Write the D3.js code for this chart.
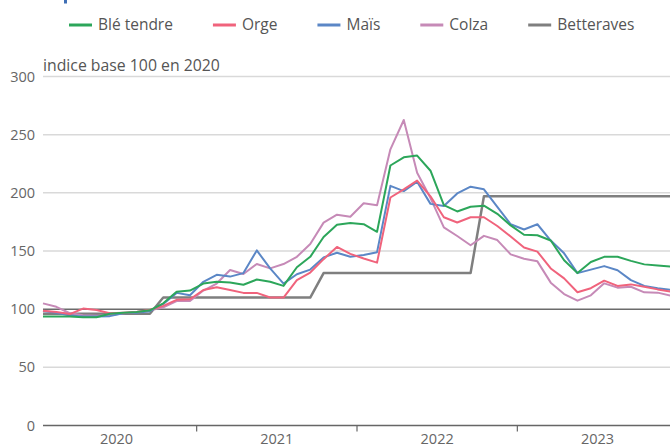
<!DOCTYPE html>
<html>
<head>
<meta charset="utf-8">
<script src="https://cdn.jsdelivr.net/npm/d3@7"></script>
<style>
  body { margin: 0; background: #fff; }
  text { font-family: "Open Sans", sans-serif; }
</style>
</head>
<body>
<script>
var width = 670, height = 448;

// monthly index, base 100 in 2020, Jan 2020 -> Dec 2023
const months = d3.timeMonths(new Date(2020, 0, 1), new Date(2024, 0, 1));
const years = ["2020", "2021", "2022", "2023"];
const yTicks = [0, 50, 100, 150, 200, 250, 300];

const ble = [93.6, 93.6, 93.6, 93, 93, 96, 97, 97.5, 99, 105, 115, 116,
  122, 123.5, 123, 121, 125.5, 123.5, 120, 136, 145, 162, 172.5, 174,
  173, 166.5, 223.5, 230.5, 232, 219, 189.5, 184, 188, 189, 182, 172,
  164, 163.5, 159, 142, 131, 140.5, 145, 145, 141.5, 138.5, 137.5, 136.5];
const orge = [98.6, 97.6, 95.8, 100.5, 99.3, 96.5, 97, 97.5, 99.5, 102.8, 108, 108.5,
  116.5, 118.8, 116.5, 114, 114, 110, 110, 125, 131.5, 143, 153.5, 147.5,
  143.5, 140, 196, 203, 210.5, 197, 179, 174.5, 179, 179, 171.5, 162.5,
  153, 149.5, 135, 126.5, 114.5, 118, 124.5, 120, 121.3, 119.3, 117, 115];
const mais = [98.5, 97, 94.5, 93.6, 93.6, 94, 96.5, 97, 98.3, 104.5, 114, 112,
  123.5, 129.5, 128, 131, 150.5, 135, 122, 130, 134, 144.5, 148.5, 145,
  146.5, 149, 206, 201.5, 209.5, 190.5, 188.7, 199.5, 205.3, 203, 188, 173,
  168.5, 173, 159, 148, 131, 134, 137, 133.5, 125, 120, 118, 116.5];
const colza = [105, 102, 96.5, 94.8, 94.3, 94.8, 96.5, 97.5, 99, 101.5, 107, 107,
  116, 122, 133.7, 130.2, 138.8, 135.1, 138.8, 145, 156, 174.4, 181.2, 179.5,
  191, 189.3, 237.4, 262.6, 217.3, 195.5, 170.3, 162.9, 154.9, 163, 159.4, 147.1,
  143.4, 141.1, 122.8, 113, 107.3, 111.9, 122.2, 118.5, 119.3, 114.5, 114.2, 111.6];
const betteraves = [96, 96, 96, 96, 96, 96, 96, 96, 96, 110, 110, 110,
  110, 110, 110, 110, 110, 110, 110, 110, 110, 131, 131, 131,
  131, 131, 131, 131, 131, 131, 131, 131, 131, 197, 197, 197,
  197, 197, 197, 197, 197, 197, 197, 197, 197, 197, 197, 197];

const seriesNames = ["Blé tendre", "Orge", "Maïs", "Colza", "Betteraves"];
const seriesValues = [ble, orge, mais, colza, betteraves];
const colors = ["#2ca65a", "#f0637c", "#5b87c6", "#c68ab7", "#7f7f7f"];

const svg = d3.select("body").append("svg")
  .attr("width", width)
  .attr("height", height);

const x = d3.scalePoint().domain(d3.range(months.length)).range([43, 671]);
const y = d3.scaleLinear().domain([0, 300]).range([425.5, 76.5]);

// cut-off mark at the very top
svg.append("rect").attr("x", 64).attr("y", 0).attr("width", 3).attr("height", 3.5)
  .attr("fill", "#3f6fb5");

// gridlines
svg.append("g").selectAll("line")
  .data(yTicks.filter(d => d > 0 && d !== 100))
  .join("line")
    .attr("x1", 43).attr("x2", width)
    .attr("y1", d => y(d)).attr("y2", d => y(d))
    .attr("stroke", "#d9d9d9").attr("stroke-width", 1.5);

// y tick labels
svg.append("g").selectAll("text")
  .data(yTicks)
  .join("text")
    .attr("x", 35).attr("y", d => y(d)).attr("dy", "0.35em")
    .attr("text-anchor", "end")
    .attr("font-size", 14.5).attr("fill", "#666")
    .text(d => d);

svg.append("text")
  .attr("x", 43).attr("y", 70.5)
  .attr("font-size", 15.8).attr("fill", "#555")
  .text("indice base 100 en 2020");

// reference line at 100
svg.append("line")
  .attr("x1", 43).attr("x2", width)
  .attr("y1", y(100)).attr("y2", y(100))
  .attr("stroke", "#6b6b6b").attr("stroke-width", 1.5);

// x axis
svg.append("line")
  .attr("x1", 43).attr("x2", width)
  .attr("y1", y(0)).attr("y2", y(0))
  .attr("stroke", "#666").attr("stroke-width", 1.5);

const step = x.step();
svg.append("g").selectAll("line")
  .data(years.slice(1))
  .join("line")
    .attr("x1", (d, i) => x((i + 1) * 12) - step / 2)
    .attr("x2", (d, i) => x((i + 1) * 12) - step / 2)
    .attr("y1", y(0)).attr("y2", y(0) + 6)
    .attr("stroke", "#666").attr("stroke-width", 1.2);

svg.append("g").selectAll("text")
  .data(years)
  .join("text")
    .attr("x", (d, i) => (x(i * 12 + 5) + x(i * 12 + 6)) / 2)
    .attr("y", 444)
    .attr("text-anchor", "middle")
    .attr("font-size", 14.5).attr("fill", "#666")
    .text(d => d);

// lines
const line = d3.line().x((d, i) => x(i)).y(d => y(d));
const order = [4, 3, 2, 1, 0];
svg.append("g").selectAll("path")
  .data(order)
  .join("path")
    .attr("d", k => line(seriesValues[k]))
    .attr("fill", "none")
    .attr("stroke", k => colors[k])
    .attr("stroke-width", k => k === 4 ? 2.5 : 2)
    .attr("stroke-linejoin", "round");

// legend
const legend = svg.append("g");
let lx = 69;
seriesNames.forEach((name, i) => {
  legend.append("line")
    .attr("x1", lx).attr("x2", lx + 23)
    .attr("y1", 25).attr("y2", 25)
    .attr("stroke", colors[i]).attr("stroke-width", 3);
  const t = legend.append("text")
    .attr("x", lx + 29).attr("y", 25).attr("dy", "0.35em")
    .attr("font-size", 15.5).attr("fill", "#555")
    .text(name);
  lx += 29 + t.node().getComputedTextLength() + 40;
});
</script>
</body>
</html>
